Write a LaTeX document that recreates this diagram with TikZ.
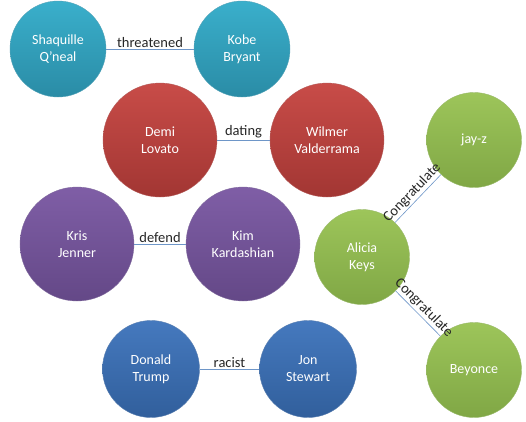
\documentclass[tikz,border=0pt]{standalone}
\usepackage{fontspec}
\setmainfont{Carlito}
\begin{document}
\begin{tikzpicture}[x=1pt,y=-1pt,
  person/.style={circle,minimum size=#1,inner sep=0pt,align=center,
    text=white,font=\fontsize{14}{17}\selectfont},
  teal/.style={person=96pt,top color=teal1,bottom color=teal2,draw=teal2!80!white,line width=0.4pt},
  redc/.style={person=114pt,top color=red1,bottom color=red2,draw=red2!80!white,line width=0.4pt},
  purp/.style={person=114pt,top color=purp1,bottom color=purp2,draw=purp2!80!white,line width=0.4pt},
  bluec/.style={person=97pt,top color=blue1,bottom color=blue2,draw=blue2!80!white,line width=0.4pt},
  greenc/.style={person=95pt,top color=green1,bottom color=green2,draw=green2!80!white,line width=0.4pt},
  rel/.style={draw=linec,line width=0.6pt},
  lbl/.style={font=\fontsize{14.5}{16}\selectfont,text=black!85,inner sep=1.5pt}]
\definecolor{teal1}{HTML}{3AAFCB}
\definecolor{teal2}{HTML}{2A8CA6}
\definecolor{red1}{HTML}{C84C48}
\definecolor{red2}{HTML}{A23633}
\definecolor{purp1}{HTML}{7F5EA6}
\definecolor{purp2}{HTML}{644887}
\definecolor{blue1}{HTML}{4579BE}
\definecolor{blue2}{HTML}{315F9C}
\definecolor{green1}{HTML}{9DC55A}
\definecolor{green2}{HTML}{80A745}
\definecolor{linec}{HTML}{6E96C8}
\useasboundingbox (0,0) rectangle (526,421);

\node[teal] (shaq) at (58,49) {Shaquille\\Q'neal};
\node[teal] (kobe) at (242,49) {Kobe\\Bryant};
\node[redc] (demi) at (160,140) {Demi\\Lovato};
\node[redc] (wilmer) at (327,140) {Wilmer\\Valderrama};
\node[purp] (kris) at (77,244) {Kris\\Jenner};
\node[purp] (kim) at (243,244) {Kim\\Kardashian};
\node[bluec] (donald) at (151,369) {Donald\\Trump};
\node[bluec] (jon) at (308,369) {Jon\\Stewart};
\node[greenc] (jayz) at (474,140) {jay-z};
\node[greenc] (alicia) at (362,257) {Alicia\\Keys};
\node[greenc] (beyonce) at (474,370) {Beyonce};

\draw[rel] (shaq) -- node[lbl,above] {threatened} (kobe);
\draw[rel] (demi) -- node[lbl,above] {dating} (wilmer);
\draw[rel] (kris) -- node[lbl,above] {defend} (kim);
\draw[rel] (donald) -- node[lbl,above] {racist} (jon);
\draw[rel] (alicia) -- node[lbl,above,sloped] {Congratulate} (jayz);
\draw[rel] (alicia) -- node[lbl,above,sloped] {Congratulate} (beyonce);
\end{tikzpicture}
\end{document}
